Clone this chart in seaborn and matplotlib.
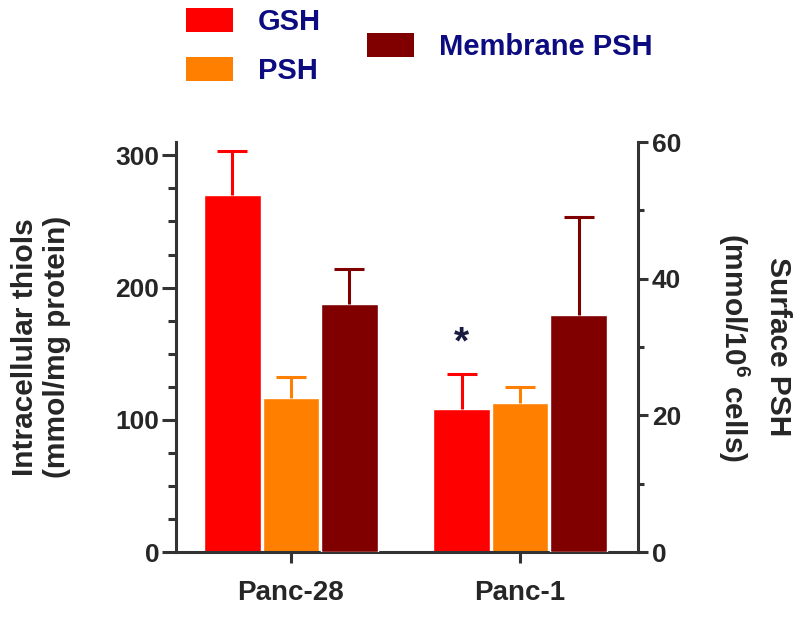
import pandas as pd
import seaborn as sns
import matplotlib.pyplot as plt
from matplotlib.patches import Patch
from matplotlib.ticker import MultipleLocator

# values
lines = ['Panc-28', 'Panc-1']
kinds = ['GSH', 'PSH', 'Membrane PSH']
gsh = [270, 108]
gsh_err = [33, 26.5]
psh = [116.5, 113]
psh_err = [15.5, 12]
mem = [36.3, 34.7]        # right axis
mem_err = [5.1, 14.3]

colors = {'GSH': '#ff0000', 'PSH': '#ff8000', 'Membrane PSH': '#800000'}
axis_col = '#333333'
text_col = '#0c0c80'

sns.set_style('ticks')
plt.rcParams['font.family'] = ['Liberation Sans', 'DejaVu Sans']
plt.rcParams['font.weight'] = 'bold'
plt.rcParams['mathtext.fontset'] = 'custom'
plt.rcParams['mathtext.bf'] = 'Liberation Sans:bold'
plt.rcParams['mathtext.rm'] = 'Liberation Sans:bold'

df_left = pd.DataFrame({'line': lines * 2,
                        'kind': ['GSH'] * 2 + ['PSH'] * 2,
                        'value': gsh + psh,
                        'err': gsh_err + psh_err})
df_right = pd.DataFrame({'line': lines, 'kind': ['Membrane PSH'] * 2,
                         'value': mem, 'err': mem_err})

fig = plt.figure(figsize=(8, 6.22), dpi=100)
ax = fig.add_axes([0.22, 0.1125, 0.5775, 0.659])
ax2 = ax.twinx()

lw = 2.2
for a, d in [(ax, df_left), (ax2, df_right)]:
    sns.barplot(data=d, x='line', y='value', hue='kind', hue_order=kinds,
                order=lines, palette=colors, width=0.766, gap=0.04, dodge=True,
                saturation=1, errorbar=None, legend=False, ax=a)
    for p, e, k in zip(a.patches, d['err'], d['kind']):
        xc = p.get_x() + p.get_width() / 2
        eb = a.errorbar([xc], [p.get_height()], yerr=[[0], [e]], fmt='none',
                        ecolor=colors[k], elinewidth=lw, capsize=10.5,
                        capthick=lw, zorder=1)
        eb[1][0].set_visible(False)  # no lower cap

# asterisk over Panc-1 GSH
p = ax.patches[1]
ax.text(p.get_x() + p.get_width() / 2, 158, '*', ha='center', va='center',
        fontsize=28, color='#1c1c40', fontweight='bold')

ax.set_xlim(-0.502, 1.515)
ax.set_ylim(0, 310)
ax2.set_ylim(0, 60)
ax.set_yticks([0, 100, 200, 300])
ax.yaxis.set_minor_locator(MultipleLocator(25))
ax2.set_yticks([0, 20, 40, 60])
ax2.yaxis.set_minor_locator(MultipleLocator(10))

for s in ['top', 'right']:
    ax.spines[s].set_visible(False)
for s in ['top', 'left', 'bottom']:
    ax2.spines[s].set_visible(False)
ax.spines['left'].set_linewidth(lw)
ax.spines['bottom'].set_linewidth(lw)
ax2.spines['right'].set_linewidth(lw)
for s in [ax.spines['left'], ax.spines['bottom'], ax2.spines['right']]:
    s.set_color(axis_col)

ax.tick_params(axis='x', length=8, width=lw, color=axis_col, labelsize=20, pad=12)
ax.tick_params(axis='y', which='major', length=10, width=lw, color=axis_col, labelsize=19, pad=2)
ax.tick_params(axis='y', which='minor', length=6, width=lw, color=axis_col)
ax2.tick_params(axis='y', which='major', length=7, width=lw, color=axis_col, labelsize=19, pad=3)
ax2.tick_params(axis='y', which='minor', length=4, width=lw, color=axis_col)
ax.set_xlabel('')
for lab in ax.get_xticklabels() + ax.get_yticklabels() + ax2.get_yticklabels():
    lab.set_fontweight('bold')

ax.set_ylabel('Intracellular thiols\n(mmol/mg protein)', fontsize=21.5,
              fontweight='bold', linespacing=1.2)
ax.yaxis.set_label_coords(-0.227, 0.5)
ax2.set_ylabel('Surface PSH\n(mmol/10$^{\\mathbf{6}}$ cells)', fontsize=21.5,
               fontweight='bold', rotation=270, va='bottom', linespacing=1.45)
ax2.yaxis.set_label_coords(1.168, 0.5)

h = [Patch(facecolor=colors[k], edgecolor='none') for k in kinds]
leg_kw = dict(frameon=False, borderpad=0, borderaxespad=0, handlelength=1.6,
              handleheight=0.86, handletextpad=0.86, labelcolor=text_col,
              prop={'weight': 'bold', 'size': 21})
fig.legend(h[:2], kinds[:2], loc='upper left', bbox_to_anchor=(186 / 800, 1 - 8 / 622),
           labelspacing=0.72, **leg_kw)
fig.legend(h[2:], kinds[2:], loc='center left', bbox_to_anchor=(367 / 800, 1 - 47 / 622),
           **leg_kw)

fig.savefig('out.png', dpi=100)
